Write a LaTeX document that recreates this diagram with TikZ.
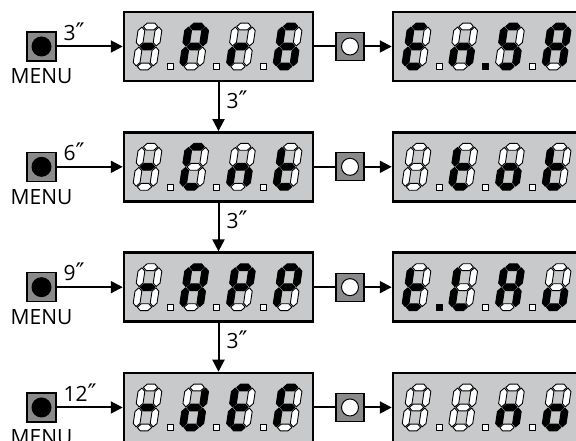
\documentclass[tikz,border=0pt]{standalone}
\usepackage{fontspec}
\setmainfont{Open Sans}
\newfontfamily\primefont{DejaVu Sans}
\usetikzlibrary{arrows.meta,positioning}

\definecolor{panelgray}{RGB}{200,201,203}
\definecolor{keygray}{RGB}{138,138,141}

\newcommand{\tsec}[1]{#1{\primefont\scalebox{1.15}{″}}}

\tikzset{
	seg/.style={draw=black, line width=0.9pt, fill=white, line join=round},
	seg on/.style={fill=black},
	seg a/.style={}, seg b/.style={}, seg c/.style={}, seg d/.style={},
	seg e/.style={}, seg f/.style={}, seg g/.style={}, seg p/.style={},
	lit/.style={seg #1/.style={seg on}},
	pics/digit/.style args={#1/#2}{code={
		\tikzset{lit/.list={#1}}
		\begin{scope}[xslant=0.15]
			\foreach \n/\cx/\cy/\r/\h in {a/11/43.5/0/7.2, b/19.5/33.5/90/9.4,
				c/19.5/13.5/90/9.4, d/11/3.5/0/7.2, e/2.5/13.5/90/9.4,
				f/2.5/33.5/90/9.4, g/11/23.5/0/7.2} {
				\draw[seg, seg \n, shift={(\cx,\cy)}, rotate=\r]
					(-\h,0) -- (-\h+3.4,3.4) -- (\h-3.4,3.4) -- (\h,0) -- (\h-3.4,-3.4) -- (-\h+3.4,-3.4) -- cycle;
			}
		\end{scope}
		\ifnum#2>0 \draw[seg, seg p] (34,0.3) rectangle (40,6.3); \fi
	}},
	dispbox/.style={draw, line width=2.5pt, fill=panelgray,
		minimum width=189pt, minimum height=69pt, inner sep=0pt},
	menukey/.style={draw, line width=1.2pt, fill=keygray, minimum size=29pt, inner sep=0pt,
		path picture={\fill[black] (path picture bounding box.center) circle (10pt);}},
	okkey/.style={draw, line width=1.2pt, fill=keygray, minimum size=28pt, inner sep=0pt,
		path picture={\draw[fill=white, line width=1pt] (path picture bounding box.center) circle (8.5pt);}},
	conn/.style={line width=2pt},
	arr/.style={conn, -{Triangle[length=12pt,width=12pt]}},
	lbl/.style={font=\fontsize{21}{24}\selectfont, inner sep=0pt},
}

% four digits of one display, #1 = box
\newcommand{\segdisp}[5]{%
	\pic at ([xshift=-85.5pt, yshift=-23.5pt]#1.center) {digit={#2}/1};
	\pic at ([xshift=-38.8pt, yshift=-23.5pt]#1.center) {digit={#3}/1};
	\pic at ([xshift=7.9pt, yshift=-23.5pt]#1.center) {digit={#4}/1};
	\pic at ([xshift=54.6pt, yshift=-23.5pt]#1.center) {digit={#5}/0};
}

\begin{document}
\begin{tikzpicture}[x=1pt, y=1pt]
	\useasboundingbox (0,0) rectangle (576,441);
	
	% rows: key, menu display, ok key, value display
	\foreach \r/\t in {1/3,2/6,3/9,4/12} {
		\pgfmathsetmacro\yy{394.5-120.33*(\r-1)}
		\node[menukey] (M\r) at (41.5,\yy) {};
		\node[lbl, below=7pt of M\r] (ML\r) {MENU};
		\node[dispbox] (L\r) at (218.5,\yy) {};
		\node[okkey] (K\r) at (350,\yy) {};
		\node[dispbox] (R\r) at (487.5,\yy) {};
		\draw[arr] (M\r) -- (L\r)
			node[pos=0, lbl, anchor=south west, xshift=6pt, yshift=5pt] {\tsec{\t}};
		\draw[conn] (L\r) -- (K\r);
		\draw[arr] (K\r) -- (R\r);
	}
	
	% 3 seconds between menus
	\foreach \r [evaluate=\r as \s using int(\r+1)] in {1,2,3} {
		\draw[arr] (L\r) -- (L\s)
			node[pos=0.35, lbl, anchor=west, xshift=7pt] {\tsec{3}};
	}
	
	% display contents
	\segdisp{L1}{g}{a,b,e,f,g}{e,g}{a,c,d,e,f,g}
	\segdisp{R1}{a,d,e,f,g}{c,e,g,p}{a,c,d,f,g}{a,b,c,e,f,g}
	\segdisp{L2}{g}{a,d,e,f}{c,e,g}{d,e,f,g}
	\segdisp{R2}{none}{d,e,f,g}{c,d,e,g}{d,e,f,g}
	\segdisp{L3}{g}{a,b,c,e,f,g}{a,b,e,f,g}{a,b,e,f,g}
	\segdisp{R3}{d,e,f,g,p}{d,e,f}{a,b,c,e,f,g}{c,d,e}
	\segdisp{L4}{g}{b,c,d,e,g}{a,d,e,f,g}{a,e,f,g}
	\segdisp{R4}{none}{none}{c,e,g}{c,d,e,g}
\end{tikzpicture}
\end{document}
